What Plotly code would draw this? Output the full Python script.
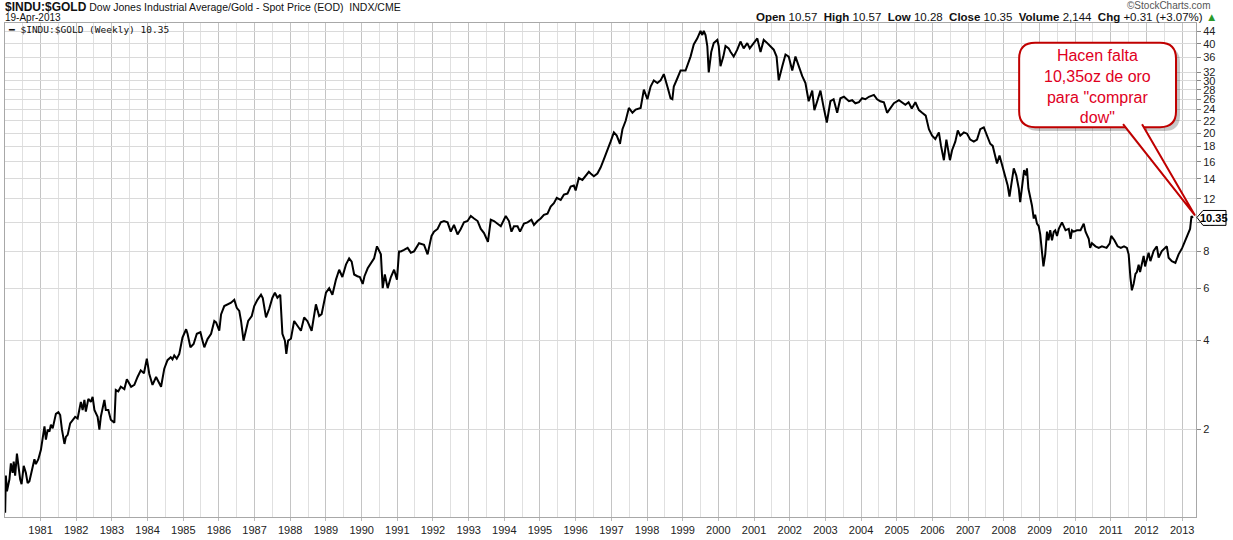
import plotly.graph_objects as go
import pandas as pd

# weekly close of $INDU:$GOLD (decimal year, ratio)
years = [
    1980.01, 1980.03, 1980.06, 1980.13, 1980.17, 1980.22, 1980.25, 1980.29, 1980.34, 1980.38,
    1980.43, 1980.47, 1980.53, 1980.59, 1980.64, 1980.69, 1980.75, 1980.83, 1980.87, 1980.94,
    1981.01, 1981.06, 1981.11, 1981.15, 1981.20, 1981.25, 1981.29, 1981.34, 1981.39, 1981.43,
    1981.50, 1981.55, 1981.60, 1981.67, 1981.71, 1981.76, 1981.83, 1981.90, 1981.97, 1982.04,
    1982.13, 1982.18, 1982.23, 1982.27, 1982.34, 1982.41, 1982.46, 1982.51, 1982.60, 1982.65,
    1982.69, 1982.79, 1982.83, 1982.90, 1982.97, 1983.07, 1983.11, 1983.18, 1983.25, 1983.35,
    1983.42, 1983.54, 1983.63, 1983.72, 1983.81, 1983.90, 1983.98, 1984.05, 1984.14, 1984.24,
    1984.29, 1984.38, 1984.47, 1984.56, 1984.65, 1984.70, 1984.75, 1984.82, 1984.89, 1984.98,
    1985.08, 1985.12, 1985.20, 1985.29, 1985.38, 1985.48, 1985.54, 1985.59, 1985.68, 1985.78,
    1985.87, 1985.92, 1986.01, 1986.06, 1986.15, 1986.24, 1986.34, 1986.43, 1986.50, 1986.57,
    1986.62, 1986.69, 1986.76, 1986.82, 1986.92, 1986.99, 1987.08, 1987.18, 1987.23, 1987.32,
    1987.41, 1987.50, 1987.57, 1987.64, 1987.72, 1987.78, 1987.85, 1987.89, 1987.94, 1988.02,
    1988.11, 1988.20, 1988.30, 1988.39, 1988.48, 1988.60, 1988.72, 1988.81, 1988.88, 1989.00,
    1989.09, 1989.18, 1989.28, 1989.37, 1989.46, 1989.56, 1989.65, 1989.72, 1989.79, 1989.88,
    1989.95, 1990.03, 1990.08, 1990.17, 1990.26, 1990.35, 1990.43, 1990.49, 1990.54, 1990.59,
    1990.65, 1990.73, 1990.82, 1990.91, 1990.99, 1991.05, 1991.10, 1991.19, 1991.29, 1991.38,
    1991.47, 1991.61, 1991.75, 1991.85, 1991.96, 1992.03, 1992.13, 1992.22, 1992.31, 1992.41,
    1992.50, 1992.59, 1992.69, 1992.78, 1992.87, 1992.97, 1993.06, 1993.15, 1993.25, 1993.34,
    1993.43, 1993.54, 1993.62, 1993.71, 1993.81, 1993.90, 1994.04, 1994.13, 1994.20, 1994.27,
    1994.37, 1994.44, 1994.55, 1994.65, 1994.76, 1994.83, 1994.93, 1995.02, 1995.11, 1995.21,
    1995.30, 1995.39, 1995.47, 1995.58, 1995.67, 1995.77, 1995.86, 1995.95, 1996.00, 1996.09,
    1996.19, 1996.28, 1996.37, 1996.42, 1996.51, 1996.61, 1996.70, 1996.79, 1996.89, 1996.98,
    1997.07, 1997.15, 1997.24, 1997.31, 1997.40, 1997.49, 1997.59, 1997.68, 1997.82, 1997.91,
    1998.01, 1998.10, 1998.19, 1998.29, 1998.38, 1998.47, 1998.57, 1998.66, 1998.71, 1998.75,
    1998.85, 1998.94, 1999.08, 1999.13, 1999.22, 1999.31, 1999.41, 1999.50, 1999.55, 1999.59,
    1999.64, 1999.69, 1999.73, 1999.80, 1999.87, 1999.97, 2000.01, 2000.06, 2000.14, 2000.20,
    2000.29, 2000.34, 2000.43, 2000.53, 2000.62, 2000.71, 2000.81, 2000.88, 2000.99, 2001.09,
    2001.18, 2001.27, 2001.37, 2001.46, 2001.55, 2001.63, 2001.69, 2001.79, 2001.88, 2001.97,
    2002.07, 2002.16, 2002.25, 2002.35, 2002.44, 2002.53, 2002.63, 2002.69, 2002.77, 2002.86,
    2002.95, 2003.04, 2003.14, 2003.23, 2003.33, 2003.42, 2003.52, 2003.66, 2003.75, 2003.84,
    2003.94, 2004.03, 2004.12, 2004.22, 2004.36, 2004.45, 2004.54, 2004.64, 2004.73, 2004.82,
    2004.92, 2005.06, 2005.15, 2005.24, 2005.33, 2005.42, 2005.52, 2005.62, 2005.71, 2005.81,
    2005.90, 2005.99, 2006.08, 2006.18, 2006.24, 2006.32, 2006.39, 2006.49, 2006.55, 2006.64,
    2006.71, 2006.78, 2006.88, 2006.97, 2007.06, 2007.16, 2007.25, 2007.34, 2007.44, 2007.53,
    2007.62, 2007.69, 2007.76, 2007.81, 2007.88, 2007.95, 2008.04, 2008.11, 2008.16, 2008.23,
    2008.28, 2008.35, 2008.42, 2008.46, 2008.50, 2008.57, 2008.63, 2008.65, 2008.69, 2008.74,
    2008.79, 2008.84, 2008.88, 2008.93, 2008.98, 2009.02, 2009.07, 2009.11, 2009.16, 2009.21,
    2009.25, 2009.30, 2009.35, 2009.40, 2009.44, 2009.49, 2009.54, 2009.63, 2009.73, 2009.82,
    2009.87, 2009.91, 2009.96, 2010.05, 2010.15, 2010.24, 2010.29, 2010.38, 2010.42, 2010.47,
    2010.57, 2010.66, 2010.75, 2010.88, 2010.97, 2011.01, 2011.10, 2011.19, 2011.28, 2011.37,
    2011.45, 2011.50, 2011.55, 2011.59, 2011.64, 2011.69, 2011.73, 2011.78, 2011.82, 2011.92,
    2011.96, 2012.06, 2012.11, 2012.20, 2012.29, 2012.34, 2012.43, 2012.53, 2012.57, 2012.62,
    2012.71, 2012.81, 2012.90, 2013.00, 2013.10, 2013.16, 2013.22, 2013.26, 2013.30,
]
ratio = [
    1.05, 1.40, 1.24, 1.36, 1.54, 1.43, 1.56, 1.40, 1.66, 1.53,
    1.36, 1.31, 1.51, 1.43, 1.32, 1.34, 1.43, 1.59, 1.53, 1.59,
    1.71, 1.85, 2.05, 1.85, 2.00, 1.97, 2.08, 2.02, 2.16, 2.26,
    2.29, 2.24, 2.00, 1.79, 1.89, 1.92, 2.10, 2.16, 2.21, 2.18,
    2.48, 2.33, 2.52, 2.30, 2.54, 2.48, 2.58, 2.33, 2.21, 2.00,
    2.21, 2.52, 2.33, 2.33, 2.16, 2.11, 2.72, 2.69, 2.79, 2.74,
    2.96, 2.79, 2.83, 3.01, 3.17, 3.10, 3.47, 3.08, 2.83, 3.01,
    2.94, 2.79, 3.21, 3.43, 3.51, 3.45, 3.56, 3.47, 3.60, 4.09,
    4.36, 4.21, 3.79, 3.89, 4.21, 4.26, 3.99, 3.79, 4.04, 4.21,
    4.65, 4.60, 4.31, 4.89, 5.22, 5.29, 5.36, 5.48, 5.15, 5.03,
    4.65, 3.99, 4.31, 4.65, 4.83, 5.22, 5.48, 5.70, 5.55, 4.78,
    5.11, 5.57, 5.79, 5.57, 5.70, 4.21, 3.99, 3.60, 3.99, 4.05,
    4.65, 4.47, 4.31, 4.78, 4.65, 4.31, 5.29, 4.83, 4.90, 5.79,
    6.00, 5.70, 6.41, 6.92, 6.54, 7.20, 7.56, 7.37, 6.67, 6.58,
    6.54, 6.20, 6.58, 7.00, 7.27, 7.56, 8.30, 7.98, 7.80, 6.00,
    6.67, 6.00, 6.54, 6.92, 6.41, 7.98, 7.98, 8.07, 8.20, 7.90,
    7.98, 8.50, 8.40, 7.80, 9.00, 9.30, 9.50, 10.0, 10.1, 10.0,
    9.30, 9.80, 9.10, 9.50, 10.0, 10.1, 10.5, 10.3, 10.1, 9.50,
    9.20, 8.60, 10.2, 10.1, 9.90, 9.70, 10.5, 10.1, 9.30, 9.70,
    9.70, 9.30, 9.90, 10.0, 10.2, 9.80, 10.1, 10.3, 10.6, 10.7,
    11.3, 11.6, 12.1, 11.9, 12.4, 12.5, 13.2, 13.3, 12.8, 14.1,
    13.9, 14.3, 14.8, 14.6, 14.3, 14.6, 15.3, 16.3, 17.4, 18.7,
    20.1, 19.6, 18.4, 20.6, 22.0, 24.3, 23.4, 24.0, 24.3, 28.0,
    26.0, 28.7, 30.1, 29.5, 30.1, 31.6, 28.7, 26.2, 26.0, 28.7,
    30.6, 32.5, 32.5, 33.6, 36.2, 39.8, 41.7, 44.2, 42.8, 44.2,
    42.8, 39.3, 32.0, 37.5, 40.2, 41.2, 39.3, 33.6, 36.2, 39.3,
    38.6, 37.6, 36.2, 38.2, 40.7, 38.6, 40.2, 38.6, 40.2, 41.7,
    37.5, 41.2, 40.2, 39.3, 38.2, 36.2, 30.1, 33.6, 36.8, 36.2,
    32.5, 36.2, 33.6, 31.1, 29.5, 25.6, 27.8, 23.9, 25.6, 27.8,
    24.4, 21.7, 25.6, 26.0, 23.4, 26.2, 26.5, 25.6, 25.8, 25.2,
    25.4, 26.2, 26.0, 26.5, 26.9, 26.0, 25.6, 25.4, 23.4, 24.2,
    25.2, 25.8, 25.4, 24.9, 25.4, 24.2, 25.4, 23.9, 23.4, 22.9,
    20.6, 19.6, 19.1, 20.1, 18.1, 16.2, 19.0, 16.2, 17.5, 18.7,
    20.4, 19.6, 20.1, 19.9, 19.0, 18.7, 19.0, 20.6, 20.9, 19.6,
    18.4, 18.1, 16.8, 15.8, 16.8, 15.6, 14.1, 13.3, 12.2, 14.1,
    15.2, 14.4, 13.0, 11.7, 13.0, 15.0, 14.4, 15.2, 13.0, 12.2,
    11.4, 10.3, 10.6, 9.9, 9.7, 9.1, 7.8, 7.1, 7.8, 9.3,
    8.7, 9.4, 8.7, 9.3, 9.4, 9.0, 9.5, 10.0, 9.4, 9.5,
    8.8, 9.4, 9.3, 9.4, 9.4, 9.9, 9.3, 8.8, 8.2, 8.5,
    8.3, 8.2, 8.3, 8.2, 8.5, 9.0, 8.7, 8.3, 8.2, 8.3,
    8.2, 7.8, 6.5, 5.9, 6.2, 6.7, 6.8, 7.2, 6.8, 7.7,
    7.1, 7.9, 7.4, 8.0, 8.3, 7.6, 8.0, 8.2, 8.3, 7.6,
    7.4, 7.3, 7.8, 8.2, 8.8, 9.2, 9.5, 10.5, 10.35,
]
y_ticks = [2, 4, 6, 8, 10, 12, 14, 16, 18, 20, 22, 24, 26, 28, 30, 32, 36, 40, 44]
last_close = 10.35


def to_date(y):
    base = pd.Timestamp(int(y), 1, 1)
    return base + pd.Timedelta(days=(y - int(y)) * 365.25)


dates = [to_date(y) for y in years]

# plot area in pixels (used only to place the decorations)
W, H = 1233, 540
L, R, T, B = 4, 1196, 23, 521


def px(x):
    return (x - L) / (R - L)


def py(y):
    return (B - y) / (B - T)


fig = go.Figure()
fig.add_trace(go.Scatter(x=dates, y=ratio, mode="lines",
                         line=dict(color="black", width=2), showlegend=False,
                         hoverinfo="skip"))

fig.update_layout(
    width=W, height=H,
    margin=dict(l=L, r=W - R, t=T, b=H - B),
    paper_bgcolor="white", plot_bgcolor="white",
    font=dict(family="Liberation Sans, Arial", size=11, color="#222"),
)
fig.update_xaxes(
    type="date", range=["1980-01-03", "2013-05-22"],
    tick0="1980-01-01", dtick="M12", tickformat="%Y",
    showgrid=True, gridcolor="#c4c4c4", gridwidth=1,
    minor=dict(dtick="M6", showgrid=True, gridcolor="#e0e0e0", ticks=""),
    ticks="outside", ticklen=3, tickcolor="#bbbbbb",
    showline=True, linecolor="#a8a8a8", mirror=True,
    tickfont=dict(size=11, color="#222"), zeroline=False,
)
fig.update_yaxes(
    type="log", side="right", range=[0.0065, 1.672],
    tickvals=y_ticks, ticktext=[str(v) for v in y_ticks],
    showgrid=True, gridcolor="#dadada", gridwidth=1,
    ticks="outside", ticklen=4, tickcolor="#888888",
    showline=True, linecolor="#a8a8a8", mirror=True,
    tickfont=dict(size=11, color="#222"), zeroline=False,
)

# header texts
fig.add_annotation(xref="paper", yref="paper", x=px(2), y=py(6.5), xanchor="left", yanchor="middle",
                   showarrow=False, align="left",
                   text="<span style='font-size:12px'><b>$INDU:$GOLD</b></span>"
                        " Dow Jones Industrial Average/Gold - Spot Price (EOD)  INDX/CME",
                   font=dict(size=10.5, color="#111"))
fig.add_annotation(xref="paper", yref="paper", x=px(2), y=py(17.5), xanchor="left", yanchor="middle",
                   showarrow=False, text="19-Apr-2013", font=dict(size=10, color="#111"))
fig.add_annotation(xref="paper", yref="paper", x=px(1213), y=py(5.5), xanchor="right", yanchor="middle",
                   showarrow=False, text="\u00a9StockCharts.com", font=dict(size=10, color="#555"))
fig.add_annotation(xref="paper", yref="paper", x=px(1219), y=py(17), xanchor="right", yanchor="middle",
                   showarrow=False,
                   text="<b>Open</b> 10.57  <b>High</b> 10.57  <b>Low</b> 10.28  <b>Close</b> 10.35  "
                        "<b>Volume</b> 2,144  <b>Chg</b> +0.31 (+3.07%) <span style='color:#2a9a2a'>\u25b2</span>",
                   font=dict(size=11.5, color="#111"))

# in-chart legend
fig.add_annotation(xref="paper", yref="paper", x=px(5), y=py(30), xanchor="left", yanchor="middle",
                   showarrow=False, text="<b>\u2501</b> $INDU:$GOLD (Weekly) 10.35",
                   font=dict(family="DejaVu Sans Mono", size=9.5, color="#111"))

# last value marker on the right axis
fig.add_shape(type="path", xref="paper", yref="paper", layer="above",
              path=f"M {px(1197)} {py(219)} L {px(1203)} {py(212)} L {px(1226)} {py(212)} "
                   f"L {px(1226)} {py(227)} L {px(1203)} {py(227)} Z",
              fillcolor="white", line=dict(color="black", width=1))
fig.add_annotation(xref="paper", yref="paper", x=px(1214.5), y=py(219.5),
                   xanchor="center", yanchor="middle", showarrow=False,
                   text=f"<b>{last_close:.2f}</b>", font=dict(size=11, color="black"))

# speech bubble
bx0, bx1, by0, by1, rr = 1019, 1176, 43, 128, 16


def rounded(x0, x1, y0, y1, r):
    return (f"M {px(x0 + r)} {py(y0)} L {px(x1 - r)} {py(y0)} "
            f"Q {px(x1)} {py(y0)} {px(x1)} {py(y0 + r)} L {px(x1)} {py(y1 - r)} "
            f"Q {px(x1)} {py(y1)} {px(x1 - r)} {py(y1)} L {px(x0 + r)} {py(y1)} "
            f"Q {px(x0)} {py(y1)} {px(x0)} {py(y1 - r)} L {px(x0)} {py(y0 + r)} "
            f"Q {px(x0)} {py(y0)} {px(x0 + r)} {py(y0)} Z")


fig.add_shape(type="path", xref="paper", yref="paper", layer="above",
              path=rounded(bx0 + 4, bx1 + 4, by0 + 4, by1 + 4, rr),
              fillcolor="rgba(0,0,0,0.22)", line=dict(width=0))
fig.add_shape(type="path", xref="paper", yref="paper", layer="above",
              path=f"M {px(1126)} {py(131)} L {px(1198)} {py(221)} L {px(1146)} {py(131)} Z",
              fillcolor="rgba(0,0,0,0.18)", line=dict(width=0))
fig.add_shape(type="path", xref="paper", yref="paper", layer="above",
              path=rounded(bx0, bx1, by0, by1, rr),
              fillcolor="white", line=dict(color="#c00000", width=2))
fig.add_shape(type="path", xref="paper", yref="paper", layer="above",
              path=f"M {px(1123)} {py(125)} L {px(1195)} {py(217)} L {px(1142)} {py(125)}",
              fillcolor="white", line=dict(color="#c00000", width=2))
fig.add_annotation(xref="paper", yref="paper", x=px(1097), y=py(87),
                   xanchor="center", yanchor="middle", showarrow=False,
                   text="Hacen falta<br>10,35oz de oro<br>para \"comprar<br>dow\"",
                   font=dict(family="Liberation Sans, Arial", size=16, color="#e0001e"))

# the page has a default 8px body margin; drop it so the chart sits at the window corner
fig.write_html("out.html", config={"displayModeBar": False},
               post_script="document.body.style.margin='0';")
